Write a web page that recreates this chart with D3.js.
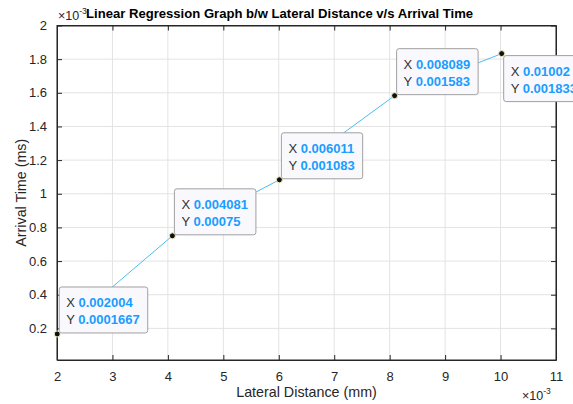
<!DOCTYPE html>
<html>
<head>
<meta charset="utf-8">
<script src="https://cdn.jsdelivr.net/npm/d3@7"></script>
<style>
  body { margin: 0; background: #fff; }
  svg { display: block; font-family: "Liberation Sans", Arial, Helvetica, sans-serif; }
</style>
</head>
<body>
<svg id="chart"></svg>
<script>
// data
const lateralDistance = [0.002004, 0.004081, 0.006011, 0.008089, 0.01002];
const arrivalTime = [0.0001667, 0.00075, 0.001083, 0.001583, 0.001833];
const xTicks = [2, 3, 4, 5, 6, 7, 8, 9, 10, 11];
const yTicks = [0.2, 0.4, 0.6, 0.8, 1, 1.2, 1.4, 1.6, 1.8, 2];

const width = 573, height = 404;
const plotLeft = 57, plotRight = 556, plotTop = 25.5, plotBottom = 360;

const svg = d3.select('#chart')
  .attr('width', width)
  .attr('height', height);

const x = d3.scaleLinear().domain([0.002, 0.011]).range([plotLeft, plotRight]);
const y = d3.scaleLinear().domain([0.000012, 0.002]).range([plotBottom, plotTop]);

const axisColor = '#262626';

// grid
svg.append('g').selectAll('line').data(xTicks).join('line')
  .attr('x1', d => x(d / 1000)).attr('x2', d => x(d / 1000))
  .attr('y1', plotTop).attr('y2', plotBottom)
  .attr('stroke', '#e3e3e3').attr('stroke-width', 1);
svg.append('g').selectAll('line').data(yTicks).join('line')
  .attr('x1', plotLeft).attr('x2', plotRight)
  .attr('y1', d => y(d / 1000)).attr('y2', d => y(d / 1000))
  .attr('stroke', '#e3e3e3').attr('stroke-width', 1);

// axes (box on, ticks inward)
const tickFmt = d => d3.format('~g')(Math.round(d * 1e6) / 1000);
const xAxis = d3.axisBottom(x).tickValues(xTicks.map(d => d / 1000))
  .tickFormat(tickFmt).tickSizeInner(-5).tickSizeOuter(0).tickPadding(12);
const yAxis = d3.axisLeft(y).tickValues(yTicks.map(d => d / 1000))
  .tickFormat(tickFmt).tickSizeInner(-5).tickSizeOuter(0).tickPadding(10);

svg.append('g').attr('transform', `translate(0,${plotBottom})`).call(xAxis);
svg.append('g').attr('transform', `translate(${plotLeft},0)`).call(yAxis);
svg.append('g').attr('transform', `translate(0,${plotTop})`)
  .call(d3.axisTop(x).tickValues(xTicks.map(d => d / 1000)).tickFormat('').tickSizeInner(-5).tickSizeOuter(0));
svg.append('g').attr('transform', `translate(${plotRight},0)`)
  .call(d3.axisRight(y).tickValues(yTicks.map(d => d / 1000)).tickFormat('').tickSizeInner(-5).tickSizeOuter(0));

svg.selectAll('.domain').attr('stroke', axisColor);
svg.selectAll('.tick line').attr('stroke', axisColor);
svg.selectAll('.tick text').attr('fill', axisColor).attr('font-size', 13)
  .attr('font-family', '"Liberation Sans", Arial, sans-serif');

// box frame
svg.append('rect')
  .attr('x', plotLeft).attr('y', plotTop)
  .attr('width', plotRight - plotLeft).attr('height', plotBottom - plotTop)
  .attr('fill', 'none').attr('stroke', axisColor).attr('stroke-width', 1);

// exponent labels
function exponent(xPos, yPos) {
  const t = svg.append('text').attr('x', xPos).attr('y', yPos)
    .attr('fill', axisColor).attr('font-size', 12.5);
  t.append('tspan').text('\u00d710');
  t.append('tspan').attr('dy', -6).attr('font-size', 8.5).text('-3');
}
exponent(58, 20);
exponent(522, 400);

// title and labels
svg.append('text')
  .attr('x', 86).attr('y', 18)
  .attr('font-size', 13.1).attr('font-weight', 'bold').attr('fill', '#000')
  .text('Linear Regression Graph b/w Lateral Distance v/s Arrival Time');

svg.append('text')
  .attr('x', (plotLeft + plotRight) / 2).attr('y', 397)
  .attr('text-anchor', 'middle').attr('font-size', 14.3).attr('fill', axisColor)
  .text('Lateral Distance (mm)');

svg.append('text')
  .attr('transform', `translate(26,${(plotTop + plotBottom) / 2}) rotate(-90)`)
  .attr('text-anchor', 'middle').attr('font-size', 14.3).attr('fill', axisColor)
  .text('Arrival Time (ms)');

// line
const points = lateralDistance.map((d, i) => [d, arrivalTime[i]]);
svg.append('path')
  .datum(points)
  .attr('fill', 'none')
  .attr('stroke', '#4dbeee')
  .attr('stroke-width', 1)
  .attr('d', d3.line().x(d => x(d[0])).y(d => y(d[1])));

// data tips
const fmt = d3.format('.4~g');
const tipBelow = [false, false, false, false, true];
points.forEach(function(p, i) {
  const px = x(p[0]), py = y(p[1]);
  const g = svg.append('g');
  const box = g.append('rect')
    .attr('rx', 2.5).attr('ry', 2.5)
    .attr('fill', '#f8f8fd').attr('stroke', '#a0a0a0').attr('stroke-width', 1);
  const t1 = g.append('text').attr('font-size', 13);
  t1.append('tspan').attr('fill', '#333').text('X ');
  t1.append('tspan').attr('fill', '#1a9dff').attr('font-weight', 'bold').text(fmt(p[0]));
  const t2 = g.append('text').attr('font-size', 13);
  t2.append('tspan').attr('fill', '#333').text('Y ');
  t2.append('tspan').attr('fill', '#1a9dff').attr('font-weight', 'bold').text(fmt(p[1]));

  const w = Math.max(t1.node().getComputedTextLength(), t2.node().getComputedTextLength()) + 15;
  const h = 46;
  const bx = px + 2;
  const by = tipBelow[i] ? py + 2 : py - 1 - h;
  box.attr('x', bx).attr('y', by).attr('width', w).attr('height', h);
  t1.attr('x', bx + 7).attr('y', by + 20);
  t2.attr('x', bx + 7).attr('y', by + 37);

  svg.append('circle')
    .attr('cx', px).attr('cy', py).attr('r', 3)
    .attr('fill', '#111').attr('stroke', '#f3efc4').attr('stroke-width', 1);
});
</script>
</body>
</html>
